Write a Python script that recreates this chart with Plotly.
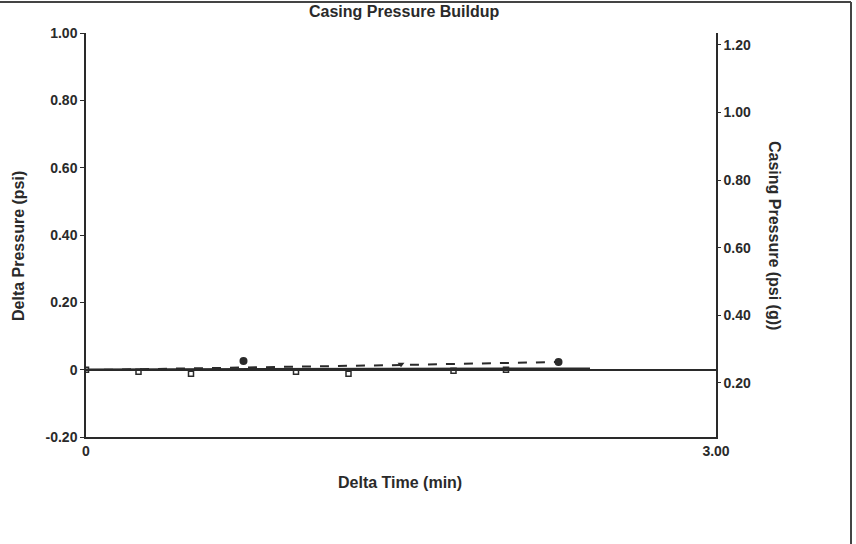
import plotly.graph_objects as go

# Delta pressure readings (left axis, psi)
delta_time = [0, 0.25, 0.5, 1.0, 1.25, 1.75, 2.0]
delta_psi = [0.0, -0.006, -0.012, -0.006, -0.012, -0.003, 0.0]

# Delta pressure line (solid)
delta_line_time = [0, 2.4]
delta_line_psi = [0.0, 0.003]

# Casing pressure readings (right axis, psi (g))
casing_time = [0.75, 2.25]
casing_psi = [0.265, 0.262]
casing_mid_time = [1.5]
casing_mid_psi = [0.255]

# Casing pressure trend (dashed)
trend_time = [0, 0.75, 1.5, 2.25]
trend_psi = [0.238, 0.245, 0.253, 0.262]

left_ticks = [-0.2, 0, 0.2, 0.4, 0.6, 0.8, 1.0]
left_labels = ["-0.20", "0", "0.20", "0.40", "0.60", "0.80", "1.00"]
right_ticks = [0.2, 0.4, 0.6, 0.8, 1.0, 1.2]
right_labels = ["0.20", "0.40", "0.60", "0.80", "1.00", "1.20"]
x_ticks = [0, 3.0]
x_labels = ["0", "3.00"]

INK = "#2a2a2a"
FONT = "Liberation Sans"

fig = go.Figure()
fig.add_trace(go.Scatter(
    x=delta_line_time, y=delta_line_psi, mode="lines",
    line=dict(color=INK, width=2.5), showlegend=False, yaxis="y"))
fig.add_trace(go.Scatter(
    x=delta_time, y=delta_psi, mode="markers",
    marker=dict(symbol="square-open", size=5, color=INK, line=dict(width=1.5)),
    name="Delta Pressure", showlegend=False, yaxis="y"))
fig.add_trace(go.Scatter(
    x=trend_time, y=trend_psi, mode="lines",
    line=dict(color=INK, width=2, dash="dash"),
    name="Casing Pressure trend", showlegend=False, yaxis="y2"))
fig.add_trace(go.Scatter(
    x=casing_time, y=casing_psi, mode="markers",
    marker=dict(symbol="circle", size=8, color=INK),
    name="Casing Pressure", showlegend=False, yaxis="y2"))
fig.add_trace(go.Scatter(
    x=casing_mid_time, y=casing_mid_psi, mode="markers",
    marker=dict(symbol="triangle-down", size=6, color=INK),
    showlegend=False, yaxis="y2"))

tf = dict(family=FONT, size=14, color=INK, weight="bold")
titlef = dict(family=FONT, size=16, color=INK)

L, R, T, B = 86, 716, 33, 437
PW, PH = R - L, B - T

def px(x):
    return (x - L) / PW

def py(y):
    return (B - y) / PH

def label(text, x, y, angle=0):
    return dict(text="<b>" + text + "</b>", xref="paper", yref="paper",
                x=px(x), y=py(y), xanchor="center", yanchor="middle",
                textangle=angle, showarrow=False, font=titlef)

fig.update_layout(
    width=856, height=544,
    margin=dict(l=L, r=856 - R, t=T, b=544 - B),
    paper_bgcolor="white", plot_bgcolor="white",
    font=dict(family=FONT, color=INK),
    xaxis=dict(range=[0, 3.0], tickvals=x_ticks, ticktext=x_labels,
               showgrid=False, zeroline=False, showline=True,
               linecolor=INK, linewidth=2, ticks="", tickfont=tf),
    yaxis=dict(range=[-0.2, 1.0], tickvals=left_ticks, ticktext=left_labels,
               showgrid=False, zeroline=True, zerolinecolor=INK,
               zerolinewidth=1.5, showline=True, linecolor=INK,
               linewidth=1.5, ticks="outside", ticklen=4, tickcolor=INK,
               tickfont=tf),
    yaxis2=dict(range=[0.04, 1.235], tickvals=right_ticks,
                ticktext=right_labels, overlaying="y", side="right",
                showgrid=False, zeroline=False, showline=True,
                linecolor=INK, linewidth=1.5, ticks="outside", ticklen=3,
                tickcolor=INK, tickfont=tf),
    annotations=[
        label("Casing Pressure Buildup", 404, 12),
        label("Delta Time (min)", 400, 482),
        label("Delta Pressure (psi)", 18, 246, -90),
        label("Casing Pressure (psi (g))", 775, 236, 90),
    ],
    shapes=[
        dict(type="line", xref="paper", yref="paper",
             x0=px(0), x1=px(851), y0=py(2), y1=py(2),
             line=dict(color="#444", width=2)),
        dict(type="line", xref="paper", yref="paper",
             x0=px(851), x1=px(851), y0=py(2), y1=py(544),
             line=dict(color="#444", width=2)),
    ],
)

fig.write_html("out.html", config={"displayModeBar": False},
               post_script="document.body.style.margin='0';")
